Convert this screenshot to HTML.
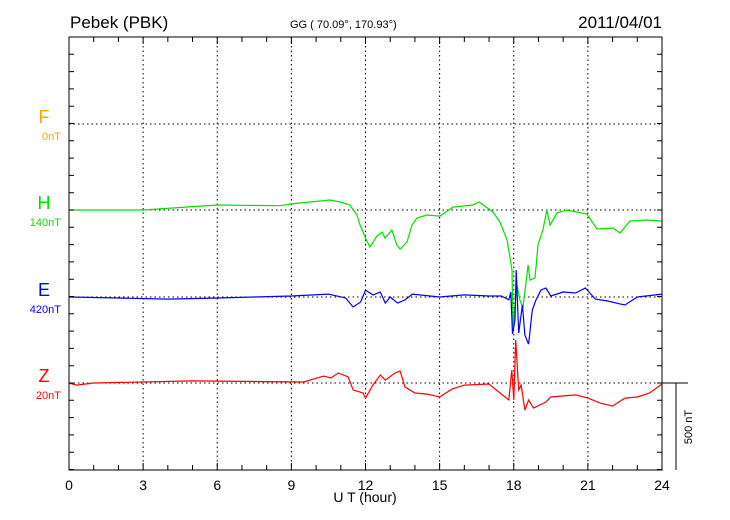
<!DOCTYPE html>
<html><head><meta charset="utf-8"><style>
body{margin:0;background:#fff}
svg{display:block;font-family:"Liberation Sans",sans-serif}
</style></head><body>
<svg id="chart" width="730" height="520" viewBox="0 0 730 520" xmlns="http://www.w3.org/2000/svg">
<text x="70" y="28" font-size="17">Pebek (PBK)</text>
<text x="290" y="28" font-size="11">GG ( 70.09°, 170.93°)</text>
<text x="662" y="28" font-size="17" text-anchor="end">2011/04/01</text>
<text x="365" y="502" font-size="14" text-anchor="middle">U T (hour)</text>
<text transform="translate(738,395) rotate(-90)" font-size="9" text-anchor="middle">Plotted at 2011/05/02 00:58 UT</text>
<text transform="translate(692,427) rotate(-90)" font-size="11" text-anchor="middle">500 nT</text>
<g id="grid"></g><g id="series"></g><g id="axes"></g>
</svg>
<script>
const hours=[0,3,6,9,12,15,18,21,24];
const compNames=["F","H","E","Z"];
const compScales=["0nT","140nT","420nT","20nT"];
const compColors=["#f5a800","#00e000","#0000ff","#ff0000"];
const hT=[0,3,6,8.54,9,10.56,10.97,11.37,11.65,11.78,11.98,12.18,12.46,12.67,12.79,13.07,13.27,13.4,13.68,13.88,14.08,14.49,15.01,15.54,16.35,16.6,17.16,17.44,17.73,17.93,17.97,18.13,18.25,18.37,18.58,18.66,18.86,18.98,19.18,19.34,19.47,19.75,20.15,20.96,21.37,22.02,22.3,22.7,23.4,24];
const hV=[0,0,29,25,35,58,46,29,-29,-87,-156,-214,-151,-127,-162,-116,-203,-226,-185,-87,-46,-29,-35,17,29,46,-12,-69,-173,-347,-676,-434,-520,-567,-318,-405,-393,-202,-116,0,-87,-17,0,-23,-110,-104,-133,-64,-58,-64];
const eT=[0,2,4,6,9,10.5,11.2,11.5,11.8,12,12.3,12.6,12.8,13,13.3,13.6,13.9,15,16,17,17.5,17.8,17.88,17.95,18.05,18.1,18.2,18.35,18.45,18.6,18.75,18.9,19.1,19.3,19.5,20,20.5,20.9,21.3,21.8,22.3,22.5,23,24];
const eV=[0,-6,-12,-6,6,17,-6,-58,-29,40,12,29,-35,0,-35,-17,17,0,12,6,6,-17,29,-214,-133,156,-208,-46,-220,-272,-75,-17,40,52,6,29,23,52,-12,-23,-40,-46,0,17];
const zT=[0,0.3,1,5,9.5,10.3,10.6,10.9,11.3,11.5,11.9,12,12.3,12.6,12.8,13.2,13.4,13.6,14,14.5,15,15.5,16,17,17.5,17.8,17.92,18,18.08,18.2,18.3,18.45,18.6,18.8,19.3,19.5,20.5,21,21.5,22,22.5,23,23.5,24];
const zV=[0,-12,0,12,6,40,29,58,35,-40,-58,-87,-12,46,17,58,69,-23,-58,-64,-81,-35,-12,-6,-64,-98,75,-98,249,-40,-12,-156,-98,-145,-110,-81,-69,-87,-116,-133,-87,-81,-58,-6];
const X0=69,X1=662,Y0=37,Y1=470,STEP=86.5;
const baseY=[124,210,297,383];
const xs=h=>X0+(X1-X0)*h/24;
const ys=(i,v)=>baseY[i]-v*STEP/500;
const NS="http://www.w3.org/2000/svg";
function mk(tag,attrs,parent){const e=document.createElementNS(NS,tag);for(const k in attrs)e.setAttribute(k,attrs[k]);parent.appendChild(e);return e;}
const grid=document.getElementById('grid'),ser=document.getElementById('series'),ax=document.getElementById('axes');
hours.forEach(h=>{if(h>0&&h<24){const l=mk('line',{x1:xs(h),x2:xs(h),y1:Y0,y2:Y1,stroke:'#000','stroke-dasharray':'1.5,3','stroke-width':1},grid);

}
const t=mk('text',{x:xs(h),y:490,'font-size':14,'text-anchor':'middle'},ax);t.textContent=h;

});
baseY.forEach((y,i)=>{const l=mk('line',{x1:X0,x2:X1,y1:y,y2:y,stroke:'#000','stroke-dasharray':'1.5,3','stroke-width':1},grid);


const n=mk('text',{x:44,y:y-1,'font-size':18,fill:compColors[i],'text-anchor':'middle'},ax);n.textContent=compNames[i];


const s=mk('text',{x:61,y:y+16,'font-size':11,fill:compColors[i],'text-anchor':'end'},ax);s.textContent=compScales[i];

});
const box=mk('rect',{x:X0,y:Y0,width:X1-X0,height:Y1-Y0,fill:'none',stroke:'#000','stroke-width':1},ax);


let d='';
for(let h=0;h<=24;h++){const len=h%3===0?7:5;d+=`M${xs(h)},${Y0}v${len}M${xs(h)},${Y1}v${-len}`;}
for(let y=Y0+STEP/5;y<Y1;y+=STEP/5){d+=`M${X0},${y}h5M${X1},${y}h-5`;}
const tk=mk('path',{d:d,stroke:'#000','stroke-width':1,fill:'none'},ax);


const sb=mk('path',{d:`M${X1},383H688M676,383V470`,stroke:'#000','stroke-width':1,fill:'none'},ax);


[[hT,hV,1,'h-series'],[eT,eV,2,'e-series'],[zT,zV,3,'z-series']].forEach(([T,V,i,name])=>{
const p=mk('polyline',{points:T.map((t,k)=>xs(t).toFixed(1)+','+ys(i,V[k]).toFixed(1)).join(' '),fill:'none',stroke:compColors[i],'stroke-width':1.2},ser);

});
</script>
</body></html>
